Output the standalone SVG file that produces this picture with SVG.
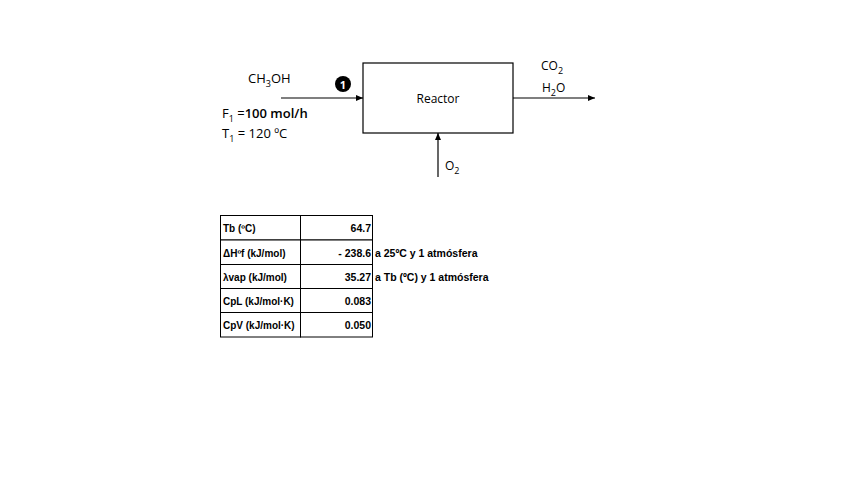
<svg xmlns="http://www.w3.org/2000/svg" width="848" height="477" viewBox="0 0 848 477">
<defs>
<marker id="ah" markerWidth="8" markerHeight="6" refX="7" refY="3" orient="auto" markerUnits="userSpaceOnUse">
<path d="M0,0 L7,3 L0,6 Z" fill="#000"/>
</marker>
<style>
.t{font-family:"Open Sans","Liberation Sans",Arial,sans-serif;fill:#000}
.lbl{font-size:13px}
.tb{font-family:"Liberation Sans",Arial,sans-serif;font-size:10.5px;font-weight:bold}
.hd{font-size:10px}
.ln{stroke:#000;stroke-width:1.2;fill:none}
.cell{stroke:#000;stroke-width:1;fill:#fff}
</style>
</defs>
<rect width="848" height="477" fill="#fff"/>
<g id="reactor">
<rect x="363" y="63" width="150" height="70" fill="#fff" stroke="#000" stroke-width="1.2"/>
<text class="t" x="438" y="103" font-size="12" text-anchor="middle">Reactor</text>
</g>
<g id="stream1">
<circle cx="343" cy="84" r="8" fill="#000"/>
<text class="t" x="343" y="88.5" font-size="11" font-weight="bold" style="fill:#fff" text-anchor="middle">1</text>
<text class="t lbl" x="248" y="83">CH<tspan font-size="9" dy="4">3</tspan><tspan dy="-4">OH</tspan></text>
<text class="t lbl" x="222" y="118">F<tspan font-size="9" dy="4">1</tspan><tspan dy="-4"> =</tspan><tspan font-weight="600">100 mol/h</tspan></text>
<text class="t lbl" x="222" y="138">T<tspan font-size="9" dy="4">1</tspan><tspan dy="-4"> = 120 ºC</tspan></text>
</g>
<g id="outlet">
<text class="t" x="541" y="70" font-size="12">CO<tspan font-size="9" dy="4">2</tspan></text>
<text class="t" x="542" y="92" font-size="12">H<tspan font-size="9" dy="4">2</tspan><tspan dy="-4">O</tspan></text>
</g>
<g id="oxygen">
<text class="t" x="445" y="170" font-size="12">O<tspan font-size="9" dy="4">2</tspan></text>
</g>
<g id="connectors">
<line class="ln" x1="281" y1="98" x2="363" y2="98" marker-end="url(#ah)"/>
<line class="ln" x1="513" y1="98" x2="595" y2="98" marker-end="url(#ah)"/>
<line class="ln" x1="438" y1="177" x2="438" y2="133" marker-end="url(#ah)"/>
</g>
<g id="table">
<rect class="cell" x="220.5" y="215.5" width="80" height="24.5"/>
<rect class="cell" x="300.5" y="215.5" width="72" height="24.5"/>
<rect class="cell" x="220.5" y="240" width="80" height="24.5"/>
<rect class="cell" x="300.5" y="240" width="72" height="24.5"/>
<rect class="cell" x="220.5" y="264.5" width="80" height="24"/>
<rect class="cell" x="300.5" y="264.5" width="72" height="24"/>
<rect class="cell" x="220.5" y="288.5" width="80" height="24"/>
<rect class="cell" x="300.5" y="288.5" width="72" height="24"/>
<rect class="cell" x="220.5" y="312.5" width="80" height="24.5"/>
<rect class="cell" x="300.5" y="312.5" width="72" height="24.5"/>
<text class="tb hd" x="223" y="232">Tb (ºC)</text>
<text class="tb hd" x="223" y="257">ΔHºf (kJ/mol)</text>
<text class="tb hd" x="223" y="281">λvap (kJ/mol)</text>
<text class="tb hd" x="223" y="305">CpL (kJ/mol·K)</text>
<text class="tb hd" x="223" y="329">CpV (kJ/mol·K)</text>
<text class="tb" x="371" y="232" text-anchor="end">64.7</text>
<text class="tb" x="371" y="257" text-anchor="end">- 238.6</text>
<text class="tb" x="371" y="281" text-anchor="end">35.27</text>
<text class="tb" x="371" y="305" text-anchor="end">0.083</text>
<text class="tb" x="371" y="329" text-anchor="end">0.050</text>
<text class="tb" x="375" y="257">a 25ºC y 1 atmósfera</text>
<text class="tb" x="375" y="281">a Tb (ºC) y 1 atmósfera</text>
</g>
</svg>
